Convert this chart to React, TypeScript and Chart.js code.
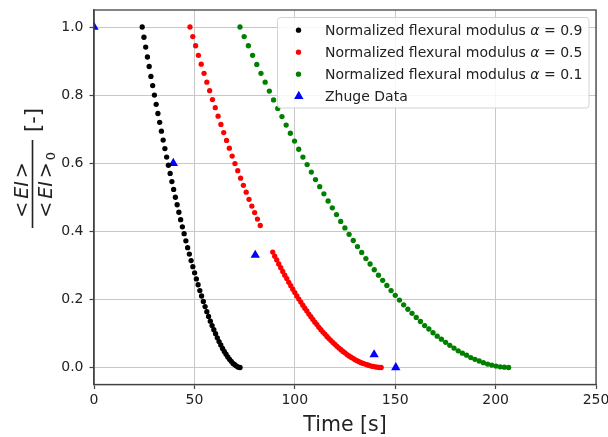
import React, { useEffect, useRef } from 'react';
import { Chart, registerables } from 'chart.js';

Chart.register(...registerables);

const blackTime = [24.0, 24.87, 25.74, 26.61, 27.48, 28.35, 29.22, 30.09, 30.96, 31.83, 32.7, 33.57, 34.44, 35.31, 36.18, 37.05, 37.92, 38.79, 39.66, 40.53, 41.4, 42.27, 43.14, 44.01, 44.88, 45.75, 46.62, 47.49, 48.36, 49.23, 50.1, 50.97, 51.84, 52.71, 53.58, 54.45, 55.32, 56.19, 57.06, 57.93, 58.8, 59.67, 60.54, 61.41, 62.28, 63.15, 64.02, 64.89, 65.76, 66.63, 67.5, 68.37, 69.24, 70.11, 70.98, 71.85, 72.72];
const blackValue = [1.0, 0.97, 0.941, 0.912, 0.884, 0.855, 0.828, 0.8, 0.773, 0.746, 0.72, 0.694, 0.668, 0.643, 0.618, 0.594, 0.57, 0.546, 0.523, 0.5, 0.478, 0.456, 0.434, 0.413, 0.393, 0.372, 0.352, 0.333, 0.314, 0.296, 0.278, 0.26, 0.243, 0.226, 0.21, 0.194, 0.179, 0.164, 0.15, 0.136, 0.123, 0.111, 0.099, 0.087, 0.076, 0.066, 0.056, 0.047, 0.039, 0.031, 0.024, 0.018, 0.012, 0.008, 0.004, 0.001, 0.0];

const redTime = [47.8, 49.2, 50.6, 52.0, 53.4, 54.8, 56.2, 57.6, 59.0, 60.4, 61.8, 63.2, 64.6, 66.0, 67.4, 68.8, 70.2, 71.6, 73.0, 74.4, 75.8, 77.2, 78.6, 80.0, 81.4, 82.8,
  89, 90, 91, 92, 93, 94, 95, 96, 97, 98, 99, 100, 101, 102, 103, 104, 105, 106, 107, 108, 109, 110, 111, 112, 113, 114, 115, 116, 117, 118, 119, 120, 121, 122, 123, 124, 125, 126, 127, 128, 129, 130, 131, 132, 133, 134, 135, 136, 137, 138, 139, 140, 141, 142, 143];
const redValue = [1.0, 0.972, 0.945, 0.917, 0.891, 0.864, 0.838, 0.813, 0.787, 0.763, 0.738, 0.714, 0.69, 0.667, 0.644, 0.621, 0.599, 0.578, 0.556, 0.535, 0.515, 0.494, 0.474, 0.455, 0.436, 0.417,
  0.339, 0.327, 0.316, 0.304, 0.293, 0.282, 0.271, 0.261, 0.25, 0.24, 0.23, 0.22, 0.21, 0.201, 0.192, 0.183, 0.174, 0.166, 0.157, 0.149, 0.141, 0.133, 0.126, 0.118, 0.111, 0.104, 0.098, 0.091, 0.085, 0.079, 0.073, 0.068, 0.062, 0.057, 0.052, 0.047, 0.043, 0.038, 0.034, 0.03, 0.027, 0.023, 0.02, 0.017, 0.014, 0.012, 0.01, 0.008, 0.006, 0.004, 0.003, 0.002, 0.001, 0.0, 0.0];

const greenTime = [72.7, 74.79, 76.88, 78.97, 81.06, 83.15, 85.24, 87.33, 89.42, 91.51, 93.6, 95.69, 97.78, 99.87, 101.96, 104.05, 106.14, 108.23, 110.32, 112.41, 114.5, 116.59, 118.68, 120.77, 122.86, 124.95, 127.04, 129.13, 131.22, 133.31, 135.4, 137.49, 139.58, 141.67, 143.76, 145.85, 147.94, 150.03, 152.12, 154.21, 156.3, 158.39, 160.48, 162.57, 164.66, 166.75, 168.84, 170.93, 173.02, 175.11, 177.2, 179.29, 181.38, 183.47, 185.56, 187.65, 189.74, 191.83, 193.92, 196.01, 198.1, 200.19, 202.28, 204.37, 206.46];
const greenValue = [1.0, 0.972, 0.945, 0.917, 0.89, 0.864, 0.838, 0.812, 0.786, 0.761, 0.737, 0.712, 0.688, 0.665, 0.641, 0.618, 0.596, 0.574, 0.552, 0.531, 0.51, 0.489, 0.469, 0.449, 0.429, 0.41, 0.391, 0.373, 0.355, 0.338, 0.32, 0.304, 0.287, 0.271, 0.256, 0.241, 0.226, 0.212, 0.198, 0.184, 0.171, 0.159, 0.147, 0.135, 0.123, 0.113, 0.102, 0.092, 0.083, 0.074, 0.065, 0.057, 0.049, 0.042, 0.036, 0.029, 0.024, 0.019, 0.014, 0.01, 0.007, 0.004, 0.002, 0.001, 0.0];

const zhugeTime = [0, 39.5, 80.3, 139.5, 150.3];
const zhugeValue = [1.0, 0.6, 0.33, 0.038, 0.0];

const xTicks = [0, 50, 100, 150, 200, 250];
const yTicks = [0.0, 0.2, 0.4, 0.6, 0.8, 1.0];

const legendLabels = [
  'Normalized flexural modulus α = 0.9',
  'Normalized flexural modulus α = 0.5',
  'Normalized flexural modulus α = 0.1',
  'Zhuge Data',
];
const seriesColors = ['#000000', '#ff0000', '#008000', '#0000ff'];
const xTitle = 'Time [s]';
const yLabelParts = ['<', 'EI', '>'];
const yLabelSub = '0';
const yLabelUnit = '[-]';

const FONT = '"DejaVu Sans"';
const TEXT = '#222222';
const DOT = 2.65;

type Part = { t: string; it?: boolean; size: number; gap?: number };

function measureParts(ctx: CanvasRenderingContext2D, parts: Part[]) {
  let w = 0;
  for (const p of parts) {
    ctx.font = `${p.it ? 'italic ' : ''}${p.size}px ${FONT}`;
    w += ctx.measureText(p.t).width + (p.gap || 0);
  }
  return w;
}
function drawParts(ctx: CanvasRenderingContext2D, parts: Part[], x: number, y: number) {
  let cx = x;
  for (const p of parts) {
    ctx.font = `${p.it ? 'italic ' : ''}${p.size}px ${FONT}`;
    ctx.fillText(p.t, cx, y);
    cx += ctx.measureText(p.t).width + (p.gap || 0);
  }
  return cx;
}

export default function App() {
  const ref = useRef<HTMLCanvasElement>(null);

  useEffect(() => {
    const canvas = ref.current;
    if (!canvas) return;
    const toPts = (xs: number[], ys: number[]) => xs.map((x, i) => ({ x, y: ys[i] }));

    const overlay = {
      id: 'overlay',
      afterDatasetsDraw(chart: any) {
        const { ctx, chartArea } = chart;
        ctx.save();
        ctx.strokeStyle = '#444444';
        ctx.lineWidth = 1.3;
        ctx.strokeRect(chartArea.left, chartArea.top, chartArea.right - chartArea.left, chartArea.bottom - chartArea.top);
        ctx.restore();
      },
      afterDraw(chart: any) {
        const ctx: CanvasRenderingContext2D = chart.ctx;
        const { chartArea } = chart;
        ctx.save();
        ctx.fillStyle = TEXT;
        ctx.textBaseline = 'alphabetic';

        // X title
        ctx.font = `20.5px ${FONT}`;
        ctx.textAlign = 'center';
        ctx.fillText(xTitle, (chartArea.left + chartArea.right) / 2, 430.5);
        ctx.textAlign = 'left';

        // Y label (rotated fraction)
        ctx.save();
        ctx.translate(32.5, 228);
        ctx.rotate(-Math.PI / 2);
        ctx.fillRect(0, -0.8, 88, 1.6);
        const num: Part[] = [
          { t: yLabelParts[0], size: 19, gap: 3 },
          { t: yLabelParts[1], it: true, size: 19, gap: 3 },
          { t: yLabelParts[2], size: 19 },
        ];
        const nw = measureParts(ctx, num);
        drawParts(ctx, num, 38 - nw / 2, -5);
        const endX = drawParts(ctx, num, 38 - nw / 2, 19);
        ctx.font = `13px ${FONT}`;
        ctx.fillText(yLabelSub, endX + 2, 22);
        ctx.font = `21px ${FONT}`;
        ctx.textAlign = 'center';
        ctx.fillText(yLabelUnit, 108, 7);
        ctx.restore();

        // Legend
        ctx.beginPath();
        (ctx as any).roundRect(277.5, 17.5, 311.5, 90.5, 3);
        ctx.fillStyle = 'rgba(255,255,255,0.85)';
        ctx.fill();
        ctx.strokeStyle = '#d3d3d3';
        ctx.lineWidth = 1;
        ctx.stroke();
        legendLabels.forEach((lab, i) => {
          const cy = 30.2 + 22 * i;
          ctx.fillStyle = seriesColors[i];
          if (i < 3) {
            ctx.beginPath();
            ctx.arc(298.5, cy, DOT, 0, Math.PI * 2);
            ctx.fill();
          } else {
            const r = 5.4;
            ctx.beginPath();
            ctx.moveTo(298.8, cy - r);
            ctx.lineTo(298.8 + r * 0.866, cy + r / 2);
            ctx.lineTo(298.8 - r * 0.866, cy + r / 2);
            ctx.closePath();
            ctx.fill();
          }
          ctx.fillStyle = TEXT;
          const idx = lab.indexOf('α');
          const parts: Part[] = idx >= 0
            ? [{ t: lab.slice(0, idx), size: 14 }, { t: 'α', it: true, size: 14 }, { t: lab.slice(idx + 1), size: 14 }]
            : [{ t: lab, size: 14 }];
          drawParts(ctx, parts, 325, cy + 5);
        });
        ctx.restore();
      },
    };

    const tickFont = { size: 14, family: 'DejaVu Sans' };
    const chart = new Chart(canvas, {
      type: 'scatter',
      data: {
        datasets: [
          { label: legendLabels[0], data: toPts(blackTime, blackValue), backgroundColor: seriesColors[0], pointRadius: DOT, pointBorderWidth: 0, pointHoverRadius: DOT },
          { label: legendLabels[1], data: toPts(redTime, redValue), backgroundColor: seriesColors[1], pointRadius: DOT, pointBorderWidth: 0, pointHoverRadius: DOT },
          { label: legendLabels[2], data: toPts(greenTime, greenValue), backgroundColor: seriesColors[2], pointRadius: DOT, pointBorderWidth: 0, pointHoverRadius: DOT },
          { label: legendLabels[3], data: toPts(zhugeTime, zhugeValue), backgroundColor: seriesColors[3], pointStyle: 'triangle', pointRadius: 5.4, pointBorderWidth: 0, pointHoverRadius: 5.4, clip: 0 } as any,
        ],
      },
      options: {
        responsive: false,
        animation: false,
        events: [],
        layout: { padding: { top: 10, right: 12, left: 0, bottom: 0 } },
        plugins: { legend: { display: false }, tooltip: { enabled: false } },
        scales: {
          x: {
            type: 'linear',
            min: 0,
            max: 250,
            afterBuildTicks: (a: any) => { a.ticks = xTicks.map((v) => ({ value: v })); },
            afterFit: (s: any) => { s.height = 52.5; s.paddingLeft = 0; s.paddingRight = 0; },
            ticks: { font: tickFont, color: TEXT, padding: 3, maxRotation: 0, autoSkip: false, callback: (v: any) => String(v) },
            grid: { color: '#c8c8c8', lineWidth: 1, tickLength: 4.5, tickColor: '#444444', tickWidth: 1.2 } as any,
            border: { display: true, color: '#444444', width: 1.3 },
          },
          y: {
            type: 'linear',
            min: -0.05,
            max: 1.05,
            afterBuildTicks: (a: any) => { a.ticks = yTicks.map((v) => ({ value: v })); },
            afterFit: (s: any) => { s.width = 94; s.paddingTop = 0; s.paddingBottom = 0; },
            ticks: { font: tickFont, color: TEXT, padding: 6, autoSkip: false, callback: (v: any) => Number(v).toFixed(1) },
            grid: { color: '#c8c8c8', lineWidth: 1, tickLength: 4.5, tickColor: '#444444', tickWidth: 1.2 } as any,
            border: { display: true, color: '#444444', width: 1.3 },
          },
        },
      },
      plugins: [overlay],
    });
    return () => chart.destroy();
  }, []);

  return (
    <div style={{ position: 'fixed', left: 0, top: 0, width: 608, height: 437, background: '#fff' }}>
      <canvas ref={ref} width={608} height={437} style={{ display: 'block', width: 608, height: 437 }} />
    </div>
  );
}
